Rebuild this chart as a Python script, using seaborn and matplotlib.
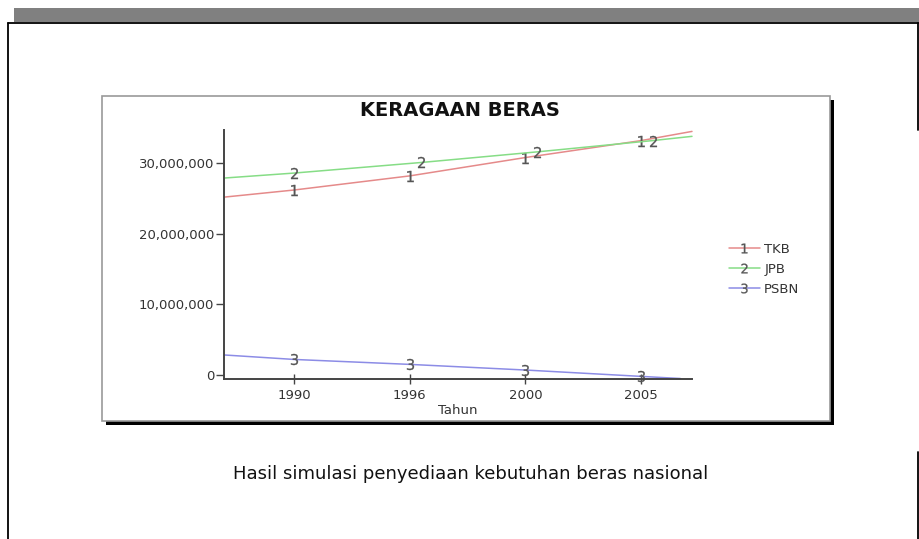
import matplotlib
matplotlib.use("Agg")
import matplotlib.pyplot as plt
import seaborn as sns
import pandas as pd
from matplotlib.patches import Rectangle
from matplotlib.lines import Line2D
from matplotlib.ticker import FuncFormatter

# ---- data ----
tkb_years = [1987, 1990, 1995, 2000, 2005, 2007.2]
tkb_values = [25.2e6, 26.2e6, 28.2e6, 30.8e6, 33.2e6, 34.5e6]
jpb_years = [1987, 1990, 1995.5, 2000.5, 2005.5, 2007.2]
jpb_values = [27.9e6, 28.6e6, 30.1e6, 31.6e6, 33.2e6, 33.8e6]
psbn_years = [1987, 1990, 1995, 2000, 2005, 2006.7]
psbn_values = [2.83e6, 2.2e6, 1.5e6, 0.7e6, -0.2e6, -0.5e6]

series_names = ["TKB", "JPB", "PSBN"]
series_numbers = ["1", "2", "3"]
series_colors = ["#e58a8a", "#86dd86", "#8c8ce6"]

x_tick_pos = [1990, 1995, 2000, 2005]
x_tick_labels = ["1990", "1996", "2000", "2005"]
y_ticks = [0, 10e6, 20e6, 30e6]

title = "KERAGAAN BERAS"
x_label = "Tahun"
caption = "Hasil simulasi penyediaan kebutuhan beras nasional"

# ---- figure ----
W, H = 920, 539
sns.set_theme(style="white")
plt.rcParams["font.family"] = ["DejaVu Sans"]
fig = plt.figure(figsize=(W / 100, H / 100), dpi=100)
fig.patch.set_facecolor("white")


def fx(px):
    return px / W


def fy(py):
    return 1 - py / H


# outer page decoration
fig.add_artist(Rectangle((fx(14), fy(22)), fx(920) - fx(14), fy(8) - fy(22),
                         transform=fig.transFigure, color="#808080", lw=0))
fig.add_artist(Line2D([fx(8), fx(920)], [fy(22.5), fy(22.5)], transform=fig.transFigure,
                      color="black", lw=1.3))
fig.add_artist(Line2D([fx(8), fx(8)], [fy(22.5), fy(539)], transform=fig.transFigure,
                      color="black", lw=1.3))
fig.add_artist(Line2D([fx(918), fx(918)], [fy(22.5), fy(130)], transform=fig.transFigure,
                      color="black", lw=1.3))
fig.add_artist(Line2D([fx(918), fx(918)], [fy(452), fy(539)], transform=fig.transFigure,
                      color="black", lw=1.3))

# chart box with shadow
fig.add_artist(Rectangle((fx(106), fy(425)), fx(834) - fx(106), fy(100) - fy(425),
                         transform=fig.transFigure, color="black", lw=0, zorder=0))
fig.add_artist(Rectangle((fx(102), fy(421)), fx(830) - fx(102), fy(96) - fy(421),
                         transform=fig.transFigure, facecolor="white",
                         edgecolor="#999999", lw=1.2, zorder=0.5))

# axes
ax = fig.add_axes([fx(224), fy(379), fx(692) - fx(224), fy(130) - fy(379)])
ax.set_zorder(3)
ax.set_facecolor("none")
ax.patch.set_alpha(0)

all_years = [tkb_years, jpb_years, psbn_years]
all_values = [tkb_values, jpb_values, psbn_values]
for yrs, vals, col, num in zip(all_years, all_values, series_colors, series_numbers):
    df = pd.DataFrame({"Tahun": yrs, "Nilai": vals})
    sns.lineplot(data=df, x="Tahun", y="Nilai", ax=ax, color=col, lw=1.1,
                 marker=f"${num}$", markevery=[1, 2, 3, 4], markersize=8,
                 markerfacecolor="#555555", markeredgecolor="#555555",
                 markeredgewidth=0.2, clip_on=False)

ax.set_xlim(1986.97, 2007.2)
ax.set_ylim(-0.57e6, 34.7e6)
ax.set_xticks(x_tick_pos)
ax.set_xticklabels(x_tick_labels)
ax.set_yticks(y_ticks)
ax.yaxis.set_major_formatter(FuncFormatter(lambda v, p: f"{v:,.0f}"))
ax.tick_params(axis="y", direction="out", length=6, width=1, color="#444444",
               labelsize=9.5, labelcolor="#333333", pad=1, left=True)
ax.tick_params(axis="x", direction="inout", length=7, width=1, color="#444444",
               labelsize=9.5, labelcolor="#333333", pad=4, bottom=True)
ax.set_xlabel(x_label, fontsize=9.5, color="#333333", labelpad=1)
ax.set_ylabel("")
for s in ["top", "right"]:
    ax.spines[s].set_visible(False)
for s in ["left", "bottom"]:
    ax.spines[s].set_color("#444444")
    ax.spines[s].set_linewidth(1.4)
ax.grid(False)

# title
fig.text(fx(460), fy(110), title, ha="center", va="center", fontsize=14,
         fontweight="bold", color="#111111", zorder=4)

# legend
handles = [Line2D([0], [0], color=c, lw=1.1, marker=f"${n}$", markersize=7,
                  markerfacecolor="#555555", markeredgecolor="#555555", markeredgewidth=0.2)
           for c, n in zip(series_colors, series_numbers)]
leg = fig.legend(handles, series_names, loc="upper left",
                 bbox_to_anchor=(fx(722), fy(236)), frameon=False, fontsize=9.5,
                 handlelength=2.4, handletextpad=0.3, labelspacing=0.55, numpoints=1,
                 borderpad=0)
leg.set_zorder(4)
for t in leg.get_texts():
    t.set_color("#333333")

# caption
fig.text(fx(471), fy(474), caption, ha="center", va="center", fontsize=13, color="#111111")

fig.savefig("out.png", dpi=100)
